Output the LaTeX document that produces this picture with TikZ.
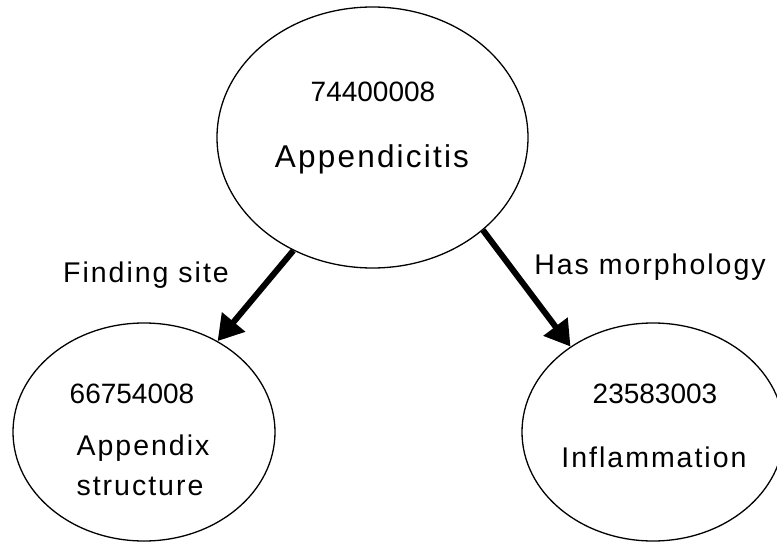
\documentclass[tikz,border=0pt]{standalone}
\usepackage{fontspec}
\setmainfont{Liberation Sans}
\newfontfamily\lblfont[LetterSpace=7]{Liberation Sans}
\usetikzlibrary{arrows.meta,shapes.geometric}
\begin{document}
\begin{tikzpicture}[x=1pt,y=-1pt,
  conc/.style={draw, ellipse, line width=1.3pt, inner sep=0pt},
  num/.style={font=\fontsize{28}{34}\selectfont, inner sep=0pt, anchor=base},
  word/.style={font=\lblfont\fontsize{28.5}{34}\selectfont, inner sep=0pt, anchor=base},
  bigword/.style={font=\lblfont\fontsize{31.5}{37}\selectfont, inner sep=0pt, anchor=base},
  rel/.style={line width=6pt, -{Triangle[length=25pt,width=29pt]}}]
\useasboundingbox (0,0) rectangle (777,543);
\clip (0,0) rectangle (777,543);
\node[conc, minimum width=311pt, minimum height=261pt] (top) at (372.5,137.5) {};
\node[conc, minimum width=262pt, minimum height=218pt] (left) at (144,432) {};
\node[conc, minimum width=262pt, minimum height=218pt] (right) at (653,432) {};
\node[num] (topnum) at (373,102) {74400008};
\node[bigword] (toplbl) at (372,167) {Appendicitis};
\node[num] (leftnum) at (132,403) {66754008};
\node[word] (leftlbl1) at (143,455) {Appendix};
\node[word] (leftlbl2) at (140,495) {structure};
\node[num] (rightnum) at (655,403) {23583003};
\node[word] (rightlbl) at (654,467) {Inflammation};
\draw[rel] (top.-125) -- (left.51);
\draw[rel] (top.-40) -- (right.134);
\node[word] (fs) at (146,282) {Finding site};
\node[word] (hm) at (650,274) {Has morphology};
\end{tikzpicture}
\end{document}
